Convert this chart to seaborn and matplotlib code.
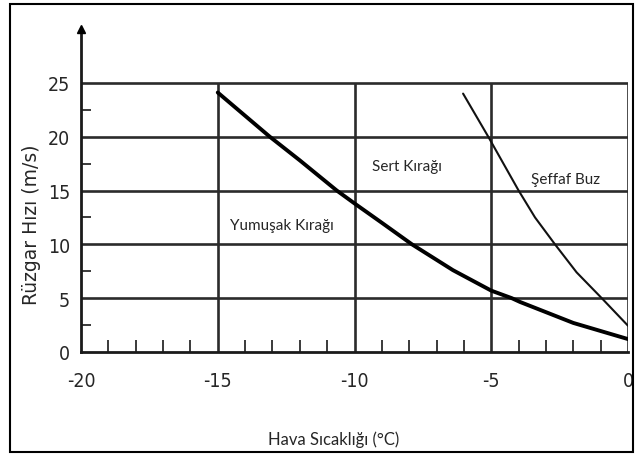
import matplotlib
matplotlib.use("Agg")
import matplotlib.pyplot as plt
import matplotlib.patches as mpatches
import pandas as pd
import seaborn as sns

# Boundary between soft rime and hard rime
soft_hard_temp = [-15, -13.1, -12, -10.65, -10, -9, -7.9, -6.4, -5, -4.25, -3.95, -3, -2, -1, 0]
soft_hard_wind = [24.1, 20, 17.8, 15, 13.8, 12.0, 10, 7.6, 5.7, 5.0, 4.65, 3.7, 2.7, 1.95, 1.2]

# Boundary between hard rime and glaze (clear ice)
hard_glaze_temp = [-6.03, -5.11, -4.0, -3.4, -2.67, -1.88, -0.96, 0]
hard_glaze_wind = [24.0, 20, 15, 12.5, 10, 7.4, 5, 2.44]

x_major = [-20, -15, -10, -5, 0]
y_major = [0, 5, 10, 15, 20, 25]
x_minor = list(range(-19, 0))
y_minor = [2.5, 7.5, 12.5, 17.5, 22.5]

region_labels = ["Yumuşak Kırağı", "Sert Kırağı", "Şeffaf Buz"]
region_x = [-12.65, -8.1, -2.3]
region_y = [11.8, 17.3, 16.1]

xlabel = "Hava Sıcaklığı (°C)"
ylabel = "Rüzgar Hızı (m/s)"

sns.set_style("white")
label_font = ["Lato", "DejaVu Sans"]

fig = plt.figure(figsize=(6.35, 4.56), dpi=100)
ax = fig.add_axes([81 / 635, 1 - 353 / 456, (628 - 81) / 635, (353 - 30) / 456])

df1 = pd.DataFrame({"t": soft_hard_temp, "v": soft_hard_wind})
df2 = pd.DataFrame({"t": hard_glaze_temp, "v": hard_glaze_wind})

grid_kw = dict(color="#2b2b2b", lw=1.9, zorder=1)
ax.hlines(y_major[1:], x_major[0], x_major[-1], **grid_kw)
ax.vlines(x_major[1:], y_major[0], y_major[-1], **grid_kw)

sns.lineplot(data=df1, x="t", y="v", ax=ax, color="black", lw=2.8, zorder=3)
sns.lineplot(data=df2, x="t", y="v", ax=ax, color="#111111", lw=1.5, zorder=3)

ax.set_xlim(-20, 0)
ax.set_ylim(0, 30)
ax.set_xticks(x_major)
ax.set_yticks(y_major)
ax.set_xticks(x_minor, minor=True)
ax.set_yticks(y_minor, minor=True)
ax.set_xticklabels([str(v) for v in x_major], family="DejaVu Sans",
                   fontstretch="condensed", fontsize=14)
ax.set_yticklabels([str(v) for v in y_major], family="DejaVu Sans",
                   fontstretch="condensed", fontsize=14)
ax.tick_params(bottom=True, left=True, which="both")
ax.tick_params(which="major", length=0)
ax.tick_params(axis="x", which="major", pad=14)
ax.tick_params(axis="y", which="major", pad=8)
ax.tick_params(axis="x", which="minor", direction="in", length=8.5, width=1.3, color="#2b2b2b")
ax.tick_params(axis="y", which="minor", direction="in", length=7, width=1.3, color="#2b2b2b")

for side in ("top", "right"):
    ax.spines[side].set_visible(False)
for side in ("left", "bottom"):
    ax.spines[side].set_color("#1a1a1a")
    ax.spines[side].set_linewidth(2.0)
ax.plot([-20], [30], marker="^", markersize=6, color="black", clip_on=False, zorder=5)

for lbl, lx, ly in zip(region_labels, region_x, region_y):
    ax.text(lx, ly, lbl, ha="center", va="center", fontsize=11, family=label_font)

ax.set_xlabel("")
ax.set_ylabel("")
fig.text(334 / 635, 1 - 440 / 456, xlabel, ha="center", va="center", fontsize=12,
         family=label_font)
fig.text(32 / 635, 1 - 225 / 456, ylabel, ha="center", va="center", rotation=90,
         fontsize=13.5, family=["DejaVu Sans"])

fig.patches.append(mpatches.Rectangle((10 / 635, 1 - 453 / 456), 623 / 635, 448 / 456,
                                      transform=fig.transFigure, fill=False,
                                      edgecolor="black", lw=1.5))

fig.savefig("out.png", dpi=100)
